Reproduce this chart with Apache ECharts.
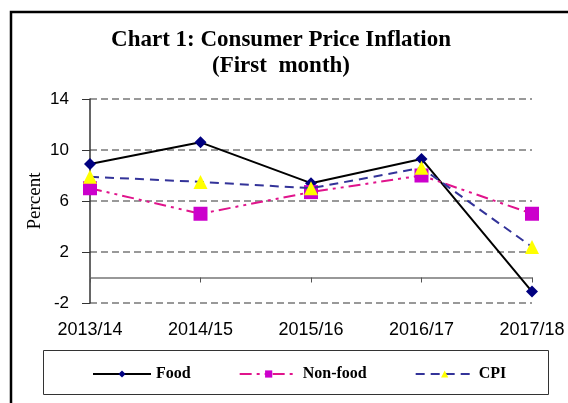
<!DOCTYPE html>
<html>
<head>
<meta charset="utf-8">
<script src="https://cdn.jsdelivr.net/npm/echarts@6/dist/echarts.min.js"></script>
<style>
  html, body { margin: 0; padding: 0; background: #fff; }
  #chart { width: 568px; height: 403px; }
</style>
</head>
<body>
<div id="chart"></div>
<script>
// data
const years = ["2013/14", "2014/15", "2015/16", "2016/17", "2017/18"];
const food = [8.9, 10.6, 7.4, 9.3, -1.1];
const nonFood = [7.0, 5.0, 6.7, 8.0, 5.0];
const cpi = [7.9, 7.5, 7.0, 8.6, 2.4];

const serif = '"Liberation Serif", "Times New Roman", serif';
const sans = '"Liberation Sans", Arial, sans-serif';

const chart = echarts.init(document.getElementById("chart"));

const option = {
  backgroundColor: "#fff",
  animation: false,
  title: {
    text: "Chart 1: Consumer Price Inflation\n(First  month)",
    left: 276,
    textAlign: "center",
    top: 22,
    textStyle: {
      fontFamily: serif,
      fontWeight: "bold",
      fontSize: 23,
      lineHeight: 26,
      color: "#000",
    },
  },
  graphic: [
    {
      type: "rect",
      shape: { x: 11, y: 12, width: 620, height: 420 },
      style: { fill: "none", stroke: "#000", lineWidth: 2.5 },
      silent: true,
    },
    {
      type: "rect",
      shape: { x: 43.5, y: 350.5, width: 505, height: 44 },
      style: { fill: "none", stroke: "#333", lineWidth: 1 },
      silent: true,
    },
  ],
  legend: {
    left: 87,
    top: 361,
    itemWidth: 58,
    itemHeight: 9,
    itemGap: 48,
    textStyle: {
      fontFamily: serif,
      fontWeight: "bold",
      fontSize: 16,
      color: "#000",
    },
    data: ["Food", "Non-food", "CPI"],
  },
  grid: { left: 90, right: 36, top: 99, bottom: 100 },
  xAxis: [
    {
      type: "category",
      data: years,
      boundaryGap: false,
      axisLine: { onZero: true, lineStyle: { color: "#777", width: 1.5 } },
      axisTick: { show: true, length: 5, lineStyle: { color: "#555" } },
      axisLabel: { show: false },
      splitLine: { show: false },
    },
    {
      type: "category",
      data: years,
      boundaryGap: false,
      position: "bottom",
      axisLine: { show: false, onZero: false },
      axisTick: { show: false },
      axisLabel: {
        margin: 18,
        fontFamily: sans,
        fontSize: 18,
        color: "#000",
      },
      splitLine: { show: false },
    },
  ],
  yAxis: {
    type: "value",
    min: -2,
    max: 14,
    interval: 4,
    name: "Percent",
    nameLocation: "middle",
    nameGap: 45,
    nameMoveOverlap: false,
    nameTextStyle: { fontFamily: serif, fontSize: 19, color: "#000" },
    axisLine: { show: true, lineStyle: { color: "#333", width: 1.5 } },
    axisTick: { show: true, length: 8, lineStyle: { color: "#333" } },
    axisLabel: { margin: 21, fontFamily: sans, fontSize: 17, color: "#000" },
    splitLine: {
      show: true,
      lineStyle: { color: "#999", width: 2, type: [7, 4] },
    },
  },
  series: [
    {
      name: "Food",
      type: "line",
      data: food,
      symbol: "diamond",
      symbolSize: 12,
      itemStyle: { color: "#000080" },
      lineStyle: { color: "#000", width: 2 },
      z: 2,
    },
    {
      name: "Non-food",
      type: "line",
      data: nonFood,
      symbol: "rect",
      symbolSize: 14,
      itemStyle: { color: "#cc00cc" },
      lineStyle: { color: "#e0148c", width: 2, type: [12, 5, 3, 5, 3, 5] },
      z: 3,
    },
    {
      name: "CPI",
      type: "line",
      data: cpi,
      symbol: "triangle",
      symbolSize: 14,
      itemStyle: { color: "#ffff00" },
      lineStyle: { color: "#333399", width: 2, type: [9, 6] },
      z: 4,
    },
  ],
};

chart.setOption(option);
</script>
</body>
</html>
